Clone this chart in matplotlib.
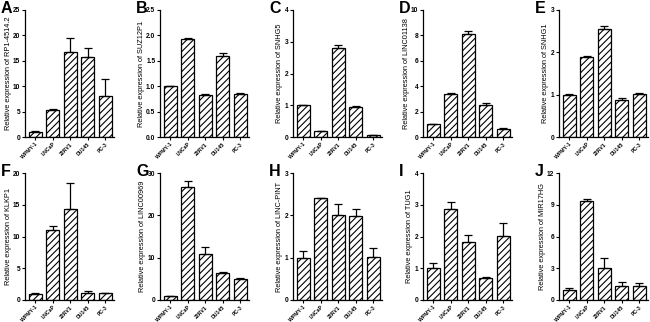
import numpy as np
import matplotlib
matplotlib.use("Agg")
import matplotlib.pyplot as plt

plt.rcParams['font.family'] = ['Liberation Sans', 'DejaVu Sans']
plt.rcParams['hatch.linewidth'] = 0.8

cells = ["WPMY-1", "LNCaP", "22RV1", "DU145", "PC-3"]

# one list of means / errors per panel
letters = ["A", "B", "C", "D", "E", "F", "G", "H", "I", "J"]
genes = ["RP1-4514.2", "SUZ12P1", "SNHG5", "LINC01138", "SNHG1",
         "KLKP1", "LINC00969", "LINC-PINT", "TUG1", "MIR17HG"]

a_mean = [1.0, 5.3, 16.7, 15.7, 8.1]
a_err = [0.1, 0.3, 2.8, 1.9, 3.3]
b_mean = [1.0, 1.93, 0.82, 1.6, 0.85]
b_err = [0.01, 0.01, 0.02, 0.06, 0.02]
c_mean = [1.0, 0.18, 2.8, 0.95, 0.05]
c_err = [0.01, 0.02, 0.1, 0.03, 0.02]
d_mean = [1.0, 3.4, 8.1, 2.55, 0.65]
d_err = [0.02, 0.03, 0.25, 0.1, 0.02]
e_mean = [1.0, 1.9, 2.55, 0.87, 1.01]
e_err = [0.01, 0.01, 0.07, 0.05, 0.02]
f_mean = [1.0, 11.1, 14.4, 1.1, 1.05]
f_err = [0.05, 0.6, 4.1, 0.35, 0.05]
g_mean = [1.0, 26.8, 10.9, 6.4, 5.0]
g_err = [0.05, 1.2, 1.6, 0.2, 0.1]
h_mean = [1.0, 2.4, 2.0, 1.98, 1.02]
h_err = [0.15, 0.02, 0.27, 0.16, 0.22]
i_mean = [1.0, 2.88, 1.84, 0.7, 2.03]
i_err = [0.18, 0.2, 0.2, 0.02, 0.38]
j_mean = [0.95, 9.4, 3.0, 1.35, 1.3]
j_err = [0.15, 0.15, 0.95, 0.35, 0.3]

means = [a_mean, b_mean, c_mean, d_mean, e_mean, f_mean, g_mean, h_mean, i_mean, j_mean]
errs = [a_err, b_err, c_err, d_err, e_err, f_err, g_err, h_err, i_err, j_err]
yticks = [[0, 5, 10, 15, 20, 25],
          [0.0, 0.5, 1.0, 1.5, 2.0, 2.5],
          [0, 1, 2, 3, 4],
          [0, 2, 4, 6, 8, 10],
          [0, 1, 2, 3],
          [0, 5, 10, 15, 20],
          [0, 10, 20, 30],
          [0, 1, 2, 3],
          [0, 1, 2, 3, 4],
          [0, 3, 6, 9, 12]]

W, H = 650, 322
fig = plt.figure(figsize=(W / 100, H / 100), dpi=100)

xs_px = [25, 160, 293, 423, 559]
tops = [10, 173]
ax_h = 127
ax_w = 89

for k in range(10):
    row, col = divmod(k, 5)
    left = xs_px[col]
    top = tops[row]
    ax = fig.add_axes([left / W, (H - top - ax_h) / H, ax_w / W, ax_h / H])
    x = np.arange(5)
    ax.bar(x, means[k], width=0.74, color="white", edgecolor="black",
           linewidth=0.9, hatch="/////", zorder=2)
    ax.errorbar(x, means[k], yerr=[np.zeros(5), errs[k]], fmt="none",
                ecolor="black", elinewidth=0.9, capsize=2.6, capthick=0.9, zorder=3)
    ax.set_xlim(-0.57, 4.5)
    ax.set_ylim(yticks[k][0], yticks[k][-1])
    ax.set_yticks(yticks[k])
    if k == 1:
        ax.set_yticklabels(["%.1f" % t for t in yticks[k]])
    ax.set_xticks(x)
    ax.set_xticklabels(cells, rotation=45, ha="right", rotation_mode="anchor",
                       fontsize=3.7, fontweight="bold")
    for lab in ax.get_yticklabels():
        lab.set_fontsize(4.8)
        lab.set_fontweight("bold")
    ax.tick_params(axis="both", length=2.2, width=0.8, pad=1.2)
    ax.spines["top"].set_visible(False)
    ax.spines["right"].set_visible(False)
    ax.spines["left"].set_linewidth(0.9)
    ax.spines["bottom"].set_linewidth(0.9)
    ax.set_ylabel("Relative expression of " + genes[k], fontsize=5.3, labelpad=1)
    fig.text((left - 24) / W, 1 - (top - 9) / H, letters[k], fontsize=11.5,
             fontweight="bold", va="top", ha="left")

fig.savefig("out.png", dpi=100)
